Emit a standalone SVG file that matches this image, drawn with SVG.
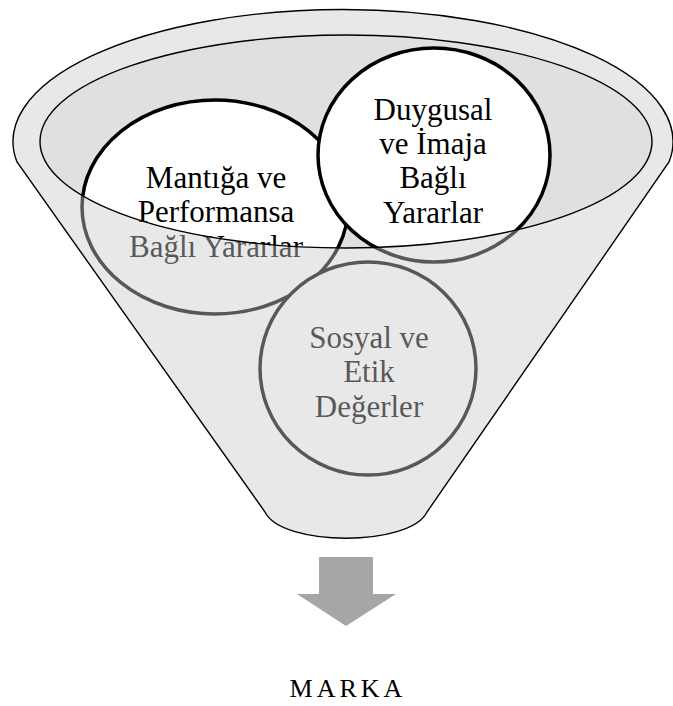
<svg xmlns="http://www.w3.org/2000/svg" width="673" height="706" viewBox="0 0 673 706">
  <style>
    .lbl { font-family: "Liberation Serif", "Times New Roman", serif; font-size: 31px; fill: #000; text-anchor: middle; }
    .bubble { fill: #fff; stroke: #000; stroke-width: 3.5; }
    .outline { fill: none; stroke: #000; stroke-width: 1.4; }
  </style>
  <defs>
    <path id="funnelShape" d="M17,162 A330,132 0 1,1 669,162 L427,512 C410,547 282,547 265,512 Z"/>
    <path id="mouth" d="M40,141.5 A306,106.5 0 1,0 652,141.5 A306,106.5 0 1,0 40,141.5 Z"/>
  </defs>

  <!-- funnel base and opening -->
  <g id="funnel-base">
    <use href="#funnelShape" fill="#fff"/>
    <use href="#mouth" fill="#e0e0e0"/>
  </g>

  <g id="node-mantik">
    <ellipse class="bubble" cx="215" cy="207" rx="133" ry="107"/>
    <text class="lbl" x="216" y="188">Mantığa ve</text>
    <text class="lbl" x="216" y="222">Performansa</text>
    <text class="lbl" x="216" y="257">Bağlı Yararlar</text>
  </g>

  <g id="node-sosyal">
    <ellipse class="bubble" cx="368" cy="368.5" rx="108" ry="106.5"/>
    <text class="lbl" x="369" y="348">Sosyal ve</text>
    <text class="lbl" x="369" y="382">Etik</text>
    <text class="lbl" x="369" y="417">Değerler</text>
  </g>

  <g id="node-duygusal">
    <ellipse class="bubble" cx="434" cy="155" rx="116" ry="107"/>
    <text class="lbl" x="433" y="120">Duygusal</text>
    <text class="lbl" x="433" y="154">ve İmaja</text>
    <text class="lbl" x="433" y="188">Bağlı</text>
    <text class="lbl" x="433" y="223">Yararlar</text>
  </g>

  <!-- translucent funnel wall over everything outside the opening -->
  <g id="funnel-wall">
    <path d="M17,162 A330,132 0 1,1 669,162 L427,512 C410,547 282,547 265,512 Z M40,141.5 A306,106.5 0 1,0 652,141.5 A306,106.5 0 1,0 40,141.5 Z"
          fill="#cacaca" fill-opacity="0.435" fill-rule="evenodd"/>
    <use href="#funnelShape" class="outline"/>
    <use href="#mouth" class="outline"/>
  </g>

  <g id="connectors">
    <path d="M319,557 L373,557 L373,594 L396,594 L346,626 L297,594 L319,594 Z" fill="#a6a6a6"/>
  </g>

  <g id="node-marka">
    <text x="348" y="697" font-family="'Liberation Serif', 'Times New Roman', serif" font-size="26" letter-spacing="4" text-anchor="middle" fill="#000">MARKA</text>
  </g>
</svg>
